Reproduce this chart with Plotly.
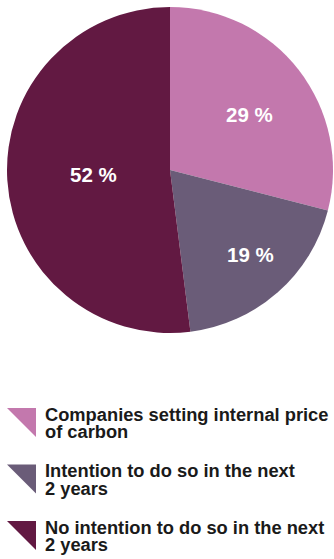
import math
import plotly.graph_objects as go

# Share of companies and their carbon-pricing plans
labels = [
    "Companies setting internal price of carbon",
    "Intention to do so in the next 2 years",
    "No intention to do so in the next 2 years",
]
legend_lines = [
    ["Companies setting internal price", "of carbon"],
    ["Intention to do so in the next", "2 years"],
    ["No intention to do so in the next", "2 years"],
]
values = [29, 19, 52]
colors = ["#c378ad", "#6a5c78", "#621942"]

W, H = 334, 559
FONT = "Liberation Sans, Arial, Helvetica, sans-serif"

# pie placement in pixels
cx, cy, r = 170, 170, 163
# where each percentage label sits: fraction of radius, angular nudge (deg)
label_radius = [0.595, 0.715, 0.47]
label_nudge = [3.0, -2.0, 0.6]

fig = go.Figure()
fig.add_trace(go.Pie(
    labels=labels,
    values=values,
    sort=False,
    direction="clockwise",
    rotation=0,
    marker=dict(colors=colors, line=dict(width=0)),
    textinfo="none",
    hoverinfo="label+percent",
    showlegend=False,
    domain=dict(x=[(cx - r) / W, (cx + r) / W],
                y=[1 - (cy + r) / H, 1 - (cy - r) / H]),
))

# percentage labels, placed along each slice's middle angle
total = sum(values)
cum = 0
for v, rf, nudge in zip(values, label_radius, label_nudge):
    mid = (cum + v / 2) / total * 360 + nudge
    cum += v
    px = cx + rf * r * math.sin(math.radians(mid))
    py = cy - rf * r * math.cos(math.radians(mid))
    fig.add_annotation(
        x=px / W, y=1 - py / H, xref="paper", yref="paper",
        xanchor="center", yanchor="middle",
        text=f"<b>{v} %</b>", showarrow=False,
        font=dict(family=FONT, size=20.5, color="white"),
    )

# hand-built legend: right-triangle swatch plus tightly leaded text
baselines = [420.5, 477, 533.5]
swatch = 29
text_x = 43
line_gap = 17.8
for lines, col, b in zip(legend_lines, colors, baselines):
    t = b - 12.5
    x0, x1 = 7 / W, (7 + swatch) / W
    y0, y1 = 1 - t / H, 1 - (t + swatch) / H
    fig.add_shape(
        type="path",
        xref="paper", yref="paper",
        path=f"M {x0} {y0} L {x1} {y0} L {x1} {y1} Z",
        fillcolor=col, line=dict(width=0),
    )
    for j, line in enumerate(lines):
        baseline = b + j * line_gap
        fig.add_annotation(
            x=text_x / W, y=1 - (baseline - 6.5) / H,
            xref="paper", yref="paper",
            xanchor="left", yanchor="middle",
            text=f"<b>{line}</b>", showarrow=False,
            font=dict(family=FONT, size=18.3, color="#1a1a1a"),
        )

fig.update_layout(
    width=W, height=H,
    margin=dict(l=0, r=0, t=0, b=0),
    paper_bgcolor="white",
    plot_bgcolor="white",
)

fig.write_html("out.html")
